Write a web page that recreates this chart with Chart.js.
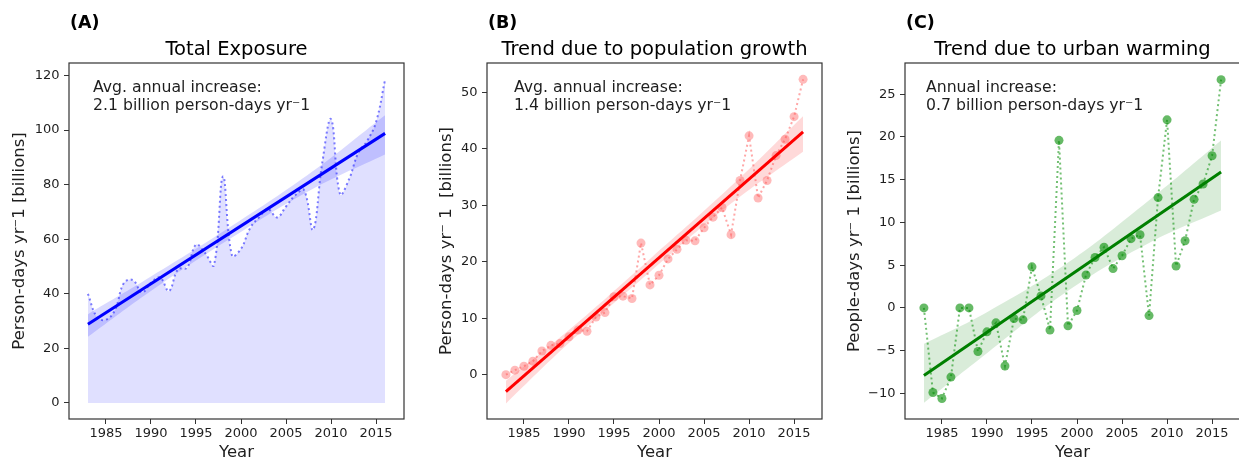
<!DOCTYPE html>
<html>
<head>
<meta charset="utf-8">
<script src="https://cdn.jsdelivr.net/npm/chart.js@4.4.1/dist/chart.umd.min.js"></script>
<style>
  html, body { margin: 0; padding: 0; background: #fff; overflow: hidden; }
  #wrap { position: relative; width: 1239px; height: 463px; overflow: hidden; }
  #wrap canvas { position: absolute; top: 0; }
</style>
</head>
<body>
<div id="wrap">
  <canvas id="chart-a" width="418" height="463" style="left:0"></canvas>
  <canvas id="chart-b" width="418" height="463" style="left:418px"></canvas>
  <canvas id="chart-c" width="418" height="463" style="left:836px"></canvas>
</div>
<script>
const years = [1983, 1984, 1985, 1986, 1987, 1988, 1989, 1990, 1991, 1992, 1993, 1994,
  1995, 1996, 1997, 1998, 1999, 2000, 2001, 2002, 2003, 2004, 2005, 2006, 2007, 2008,
  2009, 2010, 2011, 2012, 2013, 2014, 2015, 2016];

// billions of person-days per year
const totalExposure = [40, 31.5, 30.5, 34, 44, 45, 40.5, 44, 46, 41, 49, 49.5,
  58, 55, 50.5, 83, 54, 56.5, 64, 68, 71, 68, 72, 76, 78, 63.5,
  87.5, 104, 76.5, 82, 91.5, 96, 103, 118.5];
const popGrowth = [0, 0.8, 1.5, 2.4, 4.2, 5.2, 5.5, 6.7, 7.9, 7.7, 10.2, 11.0,
  13.8, 13.9, 13.5, 23.3, 15.9, 17.6, 20.5, 22.2, 23.8, 23.7, 26.0, 27.9, 29.6, 24.8,
  34.4, 42.3, 31.3, 34.4, 38.8, 41.7, 45.7, 52.3];
const urbanWarming = [0, -9.9, -10.6, -8.1, 0, 0, -5.1, -2.8, -1.75, -6.8, -1.25, -1.4,
  4.8, 1.4, -2.6, 19.6, -2.1, -0.3, 3.85, 5.9, 7.1, 4.6, 6.1, 8.1, 8.55, -0.9,
  12.9, 22.0, 4.9, 7.85, 12.7, 14.5, 17.8, 26.7];

// fitted trends (end points) and confidence bands
const trendYears = [1983, 2016];
const trendTotal = [28.8, 98.8];
const trendPop = [-3.0, 43.0];
const trendUrban = [-7.9, 15.9];

const bandYears = [1983, 1990, 1999, 2008, 2016];
const bandTotalUpper = [32.5, 46.3, 64.9, 85.0, 105.5];
const bandTotalLower = [24.2, 41.0, 60.6, 78.5, 91.1];
const bandPopUpper = [-1.1, 7.9, 20.5, 33.4, 45.8];
const bandPopLower = [-5.1, 5.6, 18.2, 30.3, 39.5];
const bandUrbanUpper = [-4.2, -0.5, 5.3, 12.6, 19.6];
const bandUrbanLower = [-11.1, -5.3, 2.0, 7.6, 11.4];

const xTicks = [1985, 1990, 1995, 2000, 2005, 2010, 2015];
const yTicksTotal = [0, 20, 40, 60, 80, 100, 120];
const yTicksPop = [0, 10, 20, 30, 40, 50];
const yTicksUrban = [-10, -5, 0, 5, 10, 15, 20, 25];

const FONT = '"DejaVu Sans", "Liberation Sans", sans-serif';
const INK = '#1e1e1e';

const pts = (xs, ys) => xs.map((x, i) => ({ x, y: ys[i] }));

// draws the panel letter, title, note and the box around the plot
const panelText = {
  id: 'panelText',
  afterDraw(chart, args, opts) {
    const { ctx, chartArea: a } = chart;
    ctx.save();
    ctx.fillStyle = '#000';
    ctx.textBaseline = 'alphabetic';
    ctx.textAlign = 'left';
    ctx.font = `bold 17.5px ${FONT}`;
    ctx.fillText(opts.label, a.left + 1, 28);
    ctx.textAlign = 'center';
    ctx.font = `19.5px ${FONT}`;
    ctx.fillText(opts.title, (a.left + a.right) / 2, 55);
    ctx.textAlign = 'left';
    ctx.fillStyle = INK;
    ctx.font = `15.7px ${FONT}`;
    opts.lines.forEach((t, i) => ctx.fillText(t, a.left + opts.noteX, 91.5 + i * 18.3));
    ctx.strokeStyle = '#333';
    ctx.lineWidth = 1.2;
    ctx.strokeRect(a.left, a.top, a.right - a.left, a.bottom - a.top);
    ctx.restore();
  }
};

function makePanel(id, p) {
  const datasets = [];
  if (p.fillUnder) {
    datasets.push({
      data: pts(years, p.values), showLine: true, fill: 'origin',
      backgroundColor: p.fillUnder, borderColor: p.dotColor, borderWidth: 2,
      borderDash: [2, 3], tension: 0.4, pointRadius: 0, order: 4
    });
  }
  datasets.push({
    data: pts(bandYears, p.bandLower), showLine: true, borderWidth: 0,
    borderColor: 'rgba(0,0,0,0)', pointRadius: 0, tension: 0.4, fill: false, order: 3
  });
  datasets.push({
    data: pts(bandYears, p.bandUpper), showLine: true, borderWidth: 0,
    borderColor: 'rgba(0,0,0,0)', pointRadius: 0, tension: 0.4,
    fill: '-1', backgroundColor: p.bandColor, order: 3
  });
  if (!p.fillUnder) {
    datasets.push({
      data: pts(years, p.values), showLine: true, fill: false,
      borderColor: p.dotColor, borderWidth: 2, borderDash: [2, 3],
      pointRadius: 4.5, pointBackgroundColor: p.markerColor, pointBorderWidth: 0,
      order: 2
    });
  }
  datasets.push({
    data: pts(trendYears, p.trend), showLine: true, fill: false,
    borderColor: p.lineColor, borderWidth: 3, pointRadius: 0, order: 1
  });

  return new Chart(document.getElementById(id), {
    type: 'scatter',
    data: { datasets },
    plugins: [panelText],
    options: {
      responsive: false,
      animation: false,
      devicePixelRatio: 1,
      layout: { padding: { top: 63, right: 14, bottom: 0, left: 0 } },
      plugins: {
        legend: { display: false },
        tooltip: { enabled: false },
        panelText: { label: p.label, title: p.title, lines: p.lines, noteX: p.noteX }
      },
      scales: {
        x: {
          type: 'linear', min: 1980.9, max: 2018.1,
          afterFit: s => { s.height = 44; },
          afterBuildTicks: s => { s.ticks = xTicks.map(v => ({ value: v })); },
          grid: { drawOnChartArea: false, drawTicks: true, tickLength: 5, tickColor: '#333' },
          border: { display: false },
          ticks: { color: INK, font: { family: FONT, size: 13 }, padding: 2, maxRotation: 0,
            callback: v => String(v) },
          title: { display: true, text: 'Year', color: INK,
            font: { family: FONT, size: 16.5 }, padding: { top: 0, bottom: 0 } }
        },
        y: {
          min: p.yMin, max: p.yMax,
          afterFit: s => { s.width = 69; },
          afterBuildTicks: s => { s.ticks = p.yTicks.map(v => ({ value: v })); },
          grid: { drawOnChartArea: false, drawTicks: true, tickLength: 5, tickColor: '#333' },
          border: { display: false },
          ticks: { color: INK, font: { family: FONT, size: 13 }, padding: 4.5,
            callback: v => String(v).replace('-', '\u2212') },
          title: { display: true, text: p.yTitle, color: INK,
            font: { family: FONT, size: 16.5 }, padding: { top: p.yTitlePad, bottom: 0 } }
        }
      }
    }
  });
}

makePanel('chart-a', {
  label: '(A)', title: 'Total Exposure',
  lines: ['Avg. annual increase:', '2.1 billion person-days yr\u207B1'], noteX: 24,
  values: totalExposure, trend: trendTotal,
  bandUpper: bandTotalUpper, bandLower: bandTotalLower,
  fillUnder: 'rgba(0,0,255,0.12)', dotColor: 'rgba(40,40,255,0.6)',
  bandColor: 'rgba(0,0,255,0.15)', lineColor: '#0000ff',
  yMin: -5.9, yMax: 124.6, yTicks: yTicksTotal,
  yTitle: 'Person-days yr\u207B1 [billions]', yTitlePad: 9.5
});

makePanel('chart-b', {
  label: '(B)', title: 'Trend due to population growth',
  lines: ['Avg. annual increase:', '1.4 billion person-days yr\u207B1'], noteX: 27,
  values: popGrowth, trend: trendPop,
  bandUpper: bandPopUpper, bandLower: bandPopLower,
  dotColor: 'rgba(255,60,60,0.45)', markerColor: 'rgba(255,90,90,0.42)',
  bandColor: 'rgba(255,0,0,0.15)', lineColor: '#ff0000',
  yMin: -7.85, yMax: 55.2, yTicks: yTicksPop,
  yTitle: 'Person-days yr\u207B 1  [billions]', yTitlePad: 19
});

makePanel('chart-c', {
  label: '(C)', title: 'Trend due to urban warming',
  lines: ['Annual increase:', '0.7 billion person-days yr\u207B1'], noteX: 21,
  values: urbanWarming, trend: trendUrban,
  bandUpper: bandUrbanUpper, bandLower: bandUrbanLower,
  dotColor: 'rgba(0,140,0,0.55)', markerColor: 'rgba(0,140,0,0.6)',
  bandColor: 'rgba(0,128,0,0.15)', lineColor: '#008000',
  yMin: -13.0, yMax: 28.65, yTicks: yTicksUrban,
  yTitle: 'People-days yr\u207B 1 [billions]', yTitlePad: 8.5
});
</script>
</body>
</html>
